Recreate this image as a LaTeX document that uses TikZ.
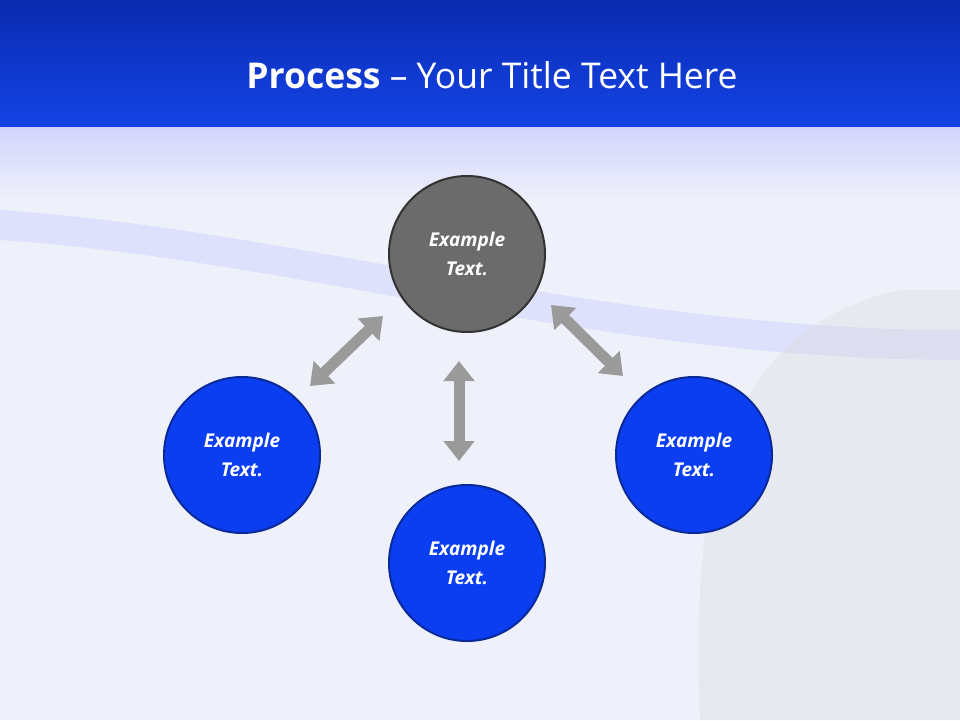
\documentclass[tikz,border=0pt]{standalone}
\usepackage{fontspec}
\setmainfont{Open Sans}
\usetikzlibrary{arrows.meta}
\definecolor{topblue}{HTML}{0A2AB0}
\definecolor{bandblue}{HTML}{1444E6}
\definecolor{bgc}{HTML}{EEF1FA}
\definecolor{circblue}{HTML}{0B3EF0}
\definecolor{circedge}{HTML}{0A2A9A}
\definecolor{gfill}{HTML}{6B6B6B}
\definecolor{arrg}{HTML}{9A9A9A}
\tikzset{
  circ/.style={circle,minimum size=156pt,line width=2pt,fill=circblue,draw=circedge,text=white,align=center,font=\fontsize{19}{29}\selectfont\bfseries\itshape},
  gcirc/.style={circ,fill=gfill,draw=black!80},
  dbl/.style={draw=arrg,line width=11pt,{Triangle[width=30pt,length=20pt]}-{Triangle[width=30pt,length=20pt]}}
}
\begin{document}
\begin{tikzpicture}[x=1pt,y=-1pt]
\useasboundingbox (0,0) rectangle (960,720);
\fill[bgc] (0,0) rectangle (960,720);
\shade[top color=bgc!60!blue!40,bottom color=bgc] (0,126) rectangle (960,200);
\fill[blue!30,opacity=0.25] (0,210) .. controls (300,230) and (600,330) .. (960,330) -- (960,360) .. controls (600,360) and (300,260) .. (0,240) -- cycle;
\fill[gray!30,opacity=0.3] (700,720) .. controls (690,500) and (720,330) .. (900,290) -- (960,290) -- (960,720) -- cycle;
\shade[top color=topblue,bottom color=bandblue] (0,0) rectangle (960,126);
\node[text=white,font=\fontsize{35.5}{42}\selectfont] (title) at (492,75) {\textbf{Process} – Your Title Text Here};
\node[gcirc] (c) at (467,254) {Example\\Text.};
\node[circ] (l) at (242,455) {Example\\Text.};
\node[circ] (b) at (467,563) {Example\\Text.};
\node[circ] (r) at (694,455) {Example\\Text.};
\coordinate (a1) at (310,386); \coordinate (a2) at (383,316);
\coordinate (v1) at (459,361); \coordinate (v2) at (459,461);
\coordinate (r1) at (551,305); \coordinate (r2) at (623,376);
\draw[dbl] (a1) -- (a2);
\draw[dbl] (v1) -- (v2);
\draw[dbl] (r1) -- (r2);
\end{tikzpicture}
\end{document}
